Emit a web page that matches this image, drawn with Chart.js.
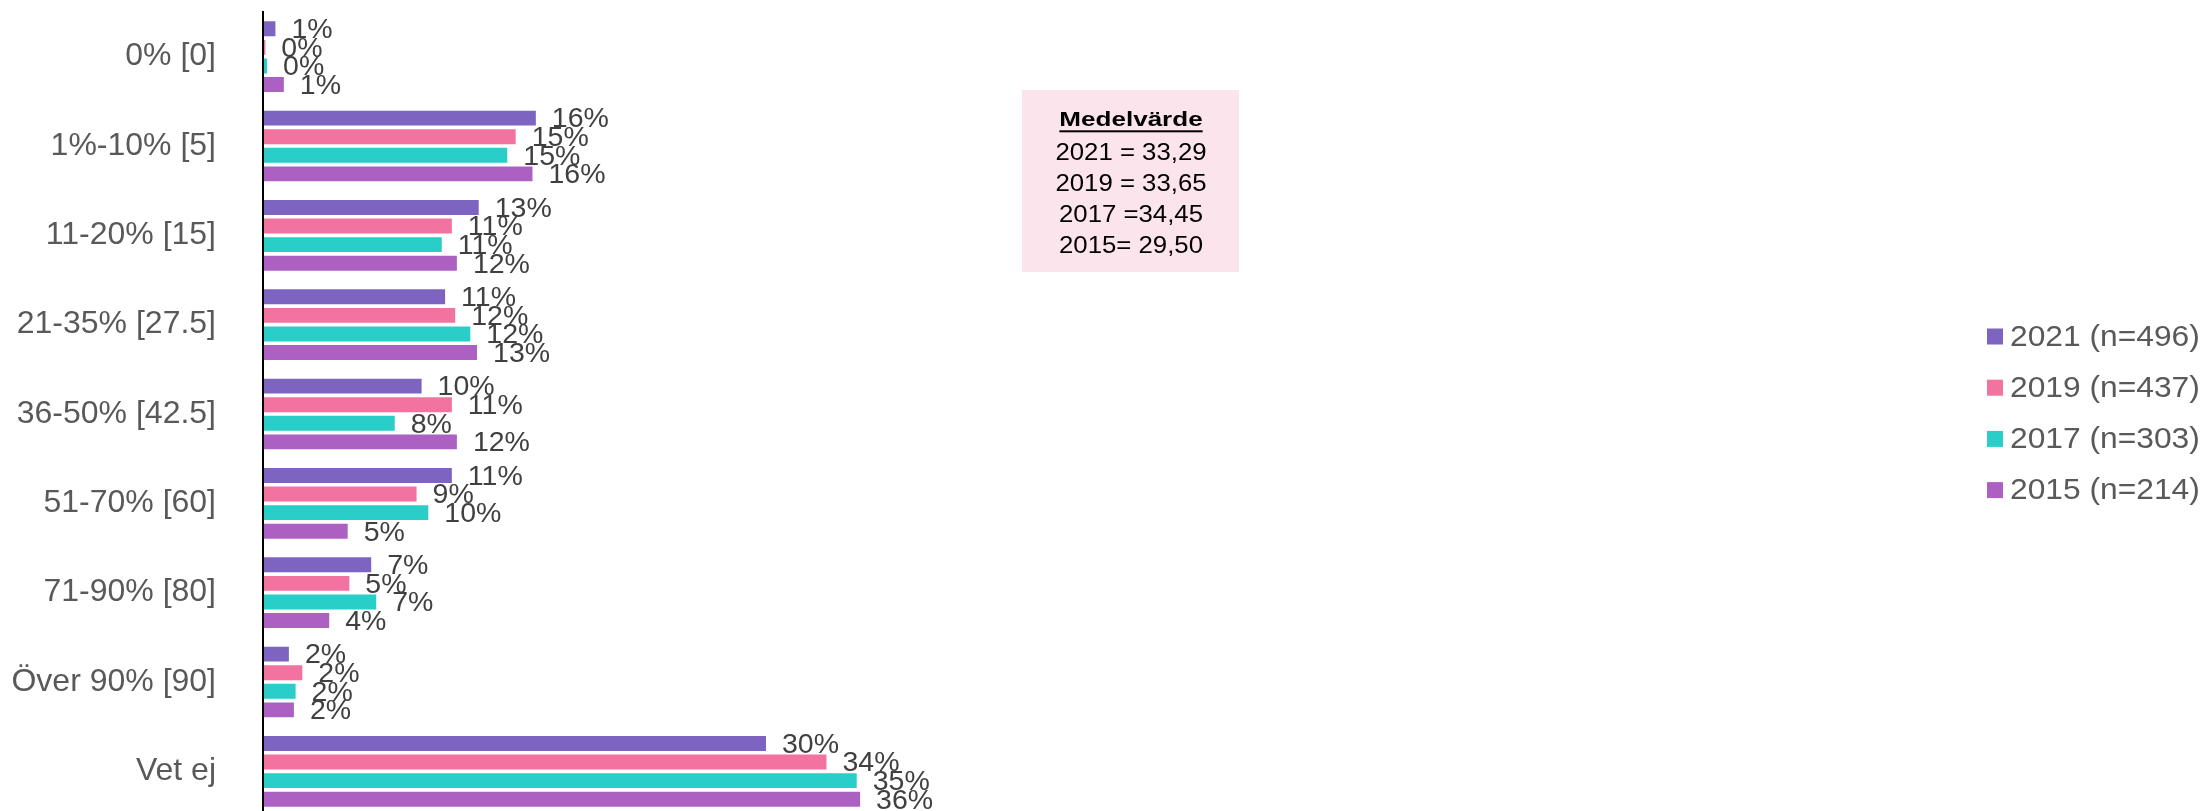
<!DOCTYPE html>
<html>
<head>
<meta charset="utf-8">
<script src="https://cdn.jsdelivr.net/npm/chart.js@4.4.1/dist/chart.umd.min.js"></script>
<style>
  html, body { margin: 0; padding: 0; background: #fff; overflow: hidden; }
  #wrap { position: relative; width: 2205px; height: 816px; }
</style>
</head>
<body>
<div id="wrap"><canvas id="c"></canvas></div>
<script>
// ---- data ----
const categories = ["0% [0]", "1%-10% [5]", "11-20% [15]", "21-35% [27.5]", "36-50% [42.5]", "51-70% [60]", "71-90% [80]", "Över 90% [90]", "Vet ej"];
const seriesNames = ["2021 (n=496)", "2019 (n=437)", "2017 (n=303)", "2015 (n=214)"];
const values2021 = [0.8, 16.3, 12.9, 10.9, 9.5, 11.3, 6.5, 1.6, 30.0];
const values2019 = [0.2, 15.1, 11.3, 11.5, 11.3, 9.2, 5.2, 2.4, 33.6];
const values2017 = [0.3, 14.6, 10.7, 12.4, 7.9, 9.9, 6.8, 2.0, 35.4];
const values2015 = [1.3, 16.1, 11.6, 12.8, 11.6, 5.1, 4.0, 1.9, 35.6];
const meanTitle = "Medelvärde";
const meanLines = ["2021 = 33,29", "2019 = 33,65", "2017 =34,45", "2015= 29,50"];

// ---- styles ----
const seriesColors = ["#7D64C0", "#F272A0", "#29CEC9", "#AC60C2"];
const FONT = "'Liberation Sans', Arial, Helvetica, sans-serif";

const allValues = [values2021, values2019, values2017, values2015];

const valueLabelPlugin = {
  id: 'valueLabels',
  afterDatasetsDraw(chart) {
    const ctx = chart.ctx;
    ctx.save();
    ctx.font = "28.5px " + FONT;
    ctx.fillStyle = "#404040";
    ctx.textAlign = "left";
    ctx.textBaseline = "middle";
    chart.data.datasets.forEach((ds, di) => {
      const meta = chart.getDatasetMeta(di);
      meta.data.forEach((el, i) => {
        const v = ds.data[i];
        ctx.fillText(Math.round(v) + "%", el.x + 15, el.y + 1.5);
      });
    });
    ctx.restore();
  }
};

const extrasPlugin = {
  id: 'extras',
  afterDraw(chart) {
    const ctx = chart.ctx;
    ctx.save();
    // Mean-value box
    const bx = 1022, by = 90, bw = 217, bh = 182;
    ctx.fillStyle = "#FCE4EC";
    ctx.fillRect(bx, by, bw, bh);
    const cx = bx + bw / 2 + 0.5;
    ctx.fillStyle = "#000";
    ctx.textAlign = "center";
    ctx.textBaseline = "alphabetic";
    // title
    ctx.save();
    ctx.translate(cx, 125.7);
    ctx.scale(1.24, 1);
    ctx.font = "bold 21px " + FONT;
    ctx.fillText(meanTitle, 0, 0);
    const tw = ctx.measureText(meanTitle).width;
    ctx.fillRect(-tw / 2, 4.6, tw, 2);
    ctx.restore();
    const baselines = [159.5, 190.5, 222, 253];
    meanLines.forEach((t, i) => {
      ctx.save();
      ctx.translate(cx, baselines[i]);
      ctx.scale(1.12, 1);
      ctx.font = "23px " + FONT;
      ctx.fillText(t, 0, 0);
      ctx.restore();
    });

    // Legend
    const lx = 1987, ly0 = 336.5, lstep = 51.2;
    seriesNames.forEach((name, i) => {
      const y = ly0 + i * lstep;
      ctx.fillStyle = seriesColors[i];
      ctx.fillRect(lx, y - 8, 16, 16);
      ctx.save();
      ctx.translate(2010, y);
      ctx.scale(1.095, 1);
      ctx.fillStyle = "#595959";
      ctx.font = "29px " + FONT;
      ctx.textAlign = "left";
      ctx.textBaseline = "middle";
      ctx.fillText(name, 0, 1);
      ctx.restore();
    });
    ctx.restore();
  }
};

const datasets = allValues.map((vals, i) => ({
  label: seriesNames[i],
  data: vals,
  backgroundColor: seriesColors[i],
  borderColor: "rgba(255,255,255,0.55)",
  borderWidth: 1,
  categoryPercentage: 0.832,
  barPercentage: 0.91
}));

new Chart(document.getElementById('c'), {
  type: 'bar',
  data: { labels: categories, datasets: datasets },
  options: {
    indexAxis: 'y',
    responsive: true,
    maintainAspectRatio: false,
    animation: false,
    events: [],
    layout: { padding: { top: 12, right: 262, bottom: 0, left: 0 } },
    plugins: { legend: { display: false }, tooltip: { enabled: false } },
    scales: {
      x: { display: false, min: 0, max: 100 },
      y: {
        grid: { display: false, drawTicks: false },
        border: { display: true, color: "#000", width: 2, z: 1 },
        ticks: { color: "#595959", font: { family: FONT, size: 32 }, padding: 47 },
        afterFit(scale) {
          scale.width = 263;
          scale.paddingTop = 0;
          scale.paddingBottom = 0;
        }
      }
    }
  },
  plugins: [valueLabelPlugin, extrasPlugin]
});
</script>
</body>
</html>
